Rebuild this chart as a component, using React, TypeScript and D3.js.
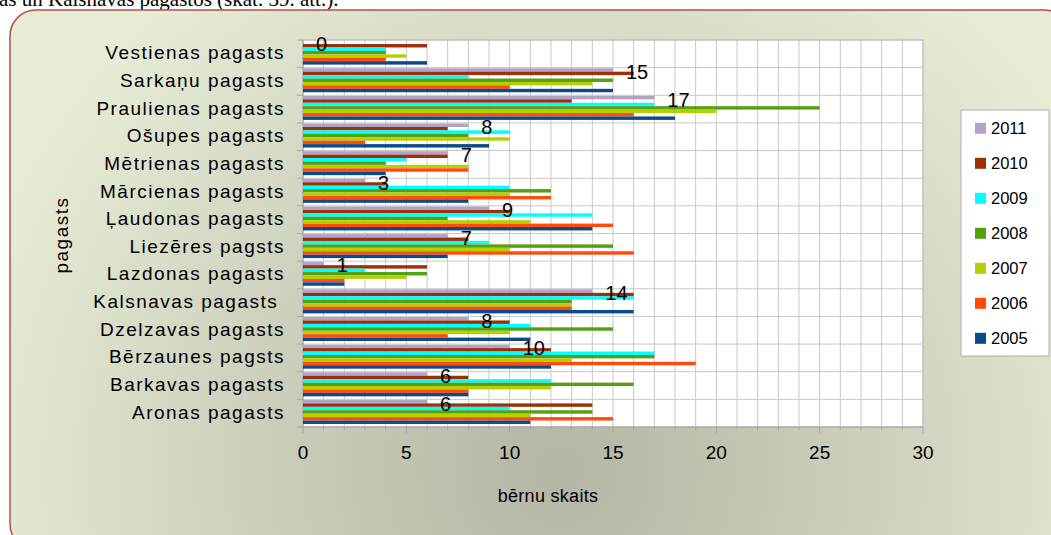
import React from "react";
import * as d3 from "d3";

const categories = [
  "Vestienas pagasts",
  "Sarkaņu pagasts",
  "Praulienas pagasts",
  "Ošupes pagasts",
  "Mētrienas pagasts",
  "Mārcienas pagasts",
  "Ļaudonas pagasts",
  "Liezēres pagsts",
  "Lazdonas pagasts",
  "Kalsnavas pagasts ",
  "Dzelzavas pagasts",
  "Bērzaunes pagsts",
  "Barkavas pagasts",
  "Aronas pagasts",
];

const years = ["2011", "2010", "2009", "2008", "2007", "2006", "2005"];
const colors = ["#b3a2c7", "#9c3006", "#00ffff", "#54a014", "#b6cf00", "#ff4b0b", "#0d4a8a"];

// values per category in order of years above (2011 ... 2005)
const v2011 = [0, 15, 17, 8, 7, 3, 9, 7, 1, 14, 8, 10, 6, 6];
const v2010 = [6, 16, 13, 7, 7, 4, 10, 8, 6, 16, 10, 12, 8, 14];
const v2009 = [4, 8, 17, 10, 5, 10, 14, 9, 3, 16, 11, 17, 12, 10];
const v2008 = [4, 15, 25, 8, 4, 12, 7, 15, 6, 13, 15, 17, 16, 14];
const v2007 = [5, 14, 20, 10, 8, 10, 11, 10, 5, 13, 10, 13, 12, 11];
const v2006 = [4, 10, 16, 3, 8, 12, 15, 16, 2, 13, 7, 19, 8, 15];
const v2005 = [6, 15, 18, 9, 4, 8, 14, 7, 2, 16, 11, 12, 8, 11];
const seriesValues = [v2011, v2010, v2009, v2008, v2007, v2006, v2005];

const xTicks = [0, 5, 10, 15, 20, 25, 30];

const W = 1051;
const H = 535;

export default function App() {
  const x = d3.scaleLinear().domain([0, 30]).range([303, 923]);
  const y = d3.scaleBand<string>().domain(categories).range([40, 427]).paddingInner(0).paddingOuter(0);
  const bw = y.bandwidth();
  const inner = d3.scaleBand<string>().domain(years).range([bw * 0.022, bw * 0.89]);
  const plotTop = 40;
  const plotBottom = 427;
  const units = d3.range(0, 31);
  const boundaries = d3.range(0, categories.length + 1).map((i) => plotTop + i * bw);
  const font = "'Liberation Sans', Arial, sans-serif";

  return (
    <svg
      width={W}
      height={H}
      style={{ position: "absolute", left: 0, top: 0, display: "block" }}
      xmlns="http://www.w3.org/2000/svg"
    >
      <defs>
        <radialGradient id="bg" cx="560" cy="470" r="620" gradientUnits="userSpaceOnUse">
          <stop offset="0" stopColor="#b3b6a4" />
          <stop offset="0.45" stopColor="#c9cdb9" />
          <stop offset="1" stopColor="#e8edd8" />
        </radialGradient>
      </defs>
      <rect x={0} y={0} width={W} height={H} fill="#ffffff" />
      <text x={-1} y={6} fontFamily="'Liberation Serif', 'Times New Roman', serif" fontSize={21} fill="#000">
        as un Kalsnavas pagastos (skat. 39. att.).
      </text>
      <rect x={10} y={10} width={1060} height={540} rx={26} ry={26} fill="url(#bg)" stroke="#b4524a" strokeWidth={1.5} />

      {/* plot area */}
      <rect x={x(0)} y={plotTop} width={x(30) - x(0)} height={plotBottom - plotTop} fill="#ffffff" />
      {units.map((u) => (
        <line key={"vg" + u} x1={x(u)} x2={x(u)} y1={plotTop} y2={plotBottom} stroke="#c8c8c8" strokeWidth={1} />
      ))}
      {boundaries.map((b, i) => (
        <line key={"hg" + i} x1={x(0)} x2={x(30)} y1={b} y2={b} stroke="#c8c8c8" strokeWidth={1} />
      ))}
      <rect x={x(0)} y={plotTop} width={x(30) - x(0)} height={plotBottom - plotTop} fill="none" stroke="#bdbdbd" strokeWidth={1} />

      {/* axis ticks */}
      <line x1={x(0)} x2={x(0)} y1={plotTop} y2={plotBottom} stroke="#a6a6a6" />
      {boundaries.map((b, i) => (
        <line key={"yt" + i} x1={x(0) - 6} x2={x(0)} y1={b} y2={b} stroke="#a6a6a6" />
      ))}
      <line x1={x(0)} x2={x(30)} y1={plotBottom} y2={plotBottom} stroke="#a6a6a6" />
      {units.map((u) => (
        <line
          key={"xt" + u}
          x1={x(u)}
          x2={x(u)}
          y1={plotBottom}
          y2={plotBottom + (u % 5 === 0 ? 6 : 3)}
          stroke="#a6a6a6"
        />
      ))}

      {/* bars */}
      {years.map((yr, si) =>
        categories.map((c, ci) => {
          const v = seriesValues[si][ci];
          if (v <= 0) return null;
          return (
            <rect
              key={yr + c}
              x={x(0)}
              y={(y(c) as number) + (inner(yr) as number)}
              width={x(v) - x(0)}
              height={inner.bandwidth()}
              fill={colors[si]}
            />
          );
        })
      )}

      {/* data labels for 2011 */}
      {categories.map((c, ci) => (
        <text
          key={"dl" + c}
          x={x(v2011[ci]) + 13}
          y={(y(c) as number) + (inner("2011") as number) + inner.bandwidth() / 2 + 9}
          fontFamily={font}
          fontSize={20}
          fill="#000"
        >
          {v2011[ci]}
        </text>
      ))}

      {/* category labels */}
      {categories.map((c) => (
        <text
          key={"cl" + c}
          x={285}
          y={(y(c) as number) + bw / 2 + 5.5}
          textAnchor="end"
          fontFamily={font}
          fontSize={19}
          letterSpacing={1.5}
          fill="#000"
          style={{ whiteSpace: "pre" }}
          xmlSpace="preserve"
        >
          {c}
        </text>
      ))}

      {/* x tick labels */}
      {xTicks.map((t) => (
        <text key={"xl" + t} x={x(t)} y={459} textAnchor="middle" fontFamily={font} fontSize={19} fill="#000">
          {t}
        </text>
      ))}

      {/* axis titles */}
      <text x={548} y={502} textAnchor="middle" fontFamily={font} fontSize={18} letterSpacing={0.3} fill="#000">
        bērnu skaits
      </text>
      <text
        transform="translate(68,235) rotate(-90)"
        textAnchor="middle"
        fontFamily={font}
        fontSize={19}
        letterSpacing={1.5}
        fill="#000"
      >
        pagasts
      </text>

      {/* legend */}
      <rect x={961} y={110} width={88} height={246} fill="#ffffff" stroke="#b0b0b0" strokeWidth={1} />
      {years.map((yr, i) => (
        <g key={"lg" + yr}>
          <rect x={975} y={128.3 + i * 35 - 5.5} width={11} height={11} fill={colors[i]} />
          <text x={991} y={128.3 + i * 35 + 6} fontFamily={font} fontSize={16.5} fill="#000">
            {yr}
          </text>
        </g>
      ))}
    </svg>
  );
}
